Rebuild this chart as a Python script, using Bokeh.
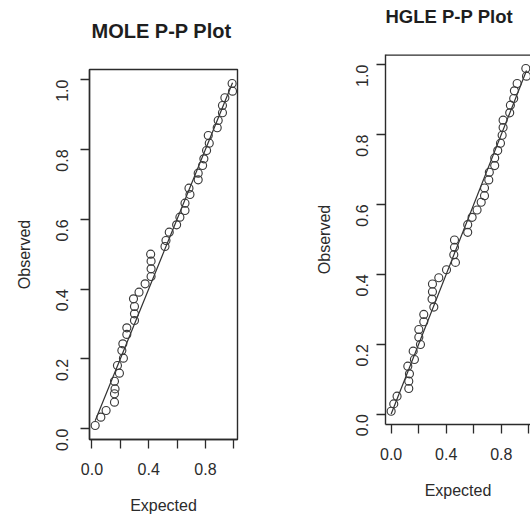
import math
from bokeh.plotting import figure
from bokeh.layouts import row
from bokeh.models import FixedTicker, Span, Range1d, Title
from bokeh.embed import file_html
from bokeh.resources import INLINE

# ---- data ----
mole_expected = [0.023, 0.063, 0.100, 0.159, 0.159, 0.163, 0.159, 0.194, 0.180, 0.222,
                 0.211, 0.218, 0.246, 0.246, 0.300, 0.300, 0.300, 0.293, 0.332, 0.375,
                 0.417, 0.417, 0.417, 0.414, 0.515, 0.522, 0.545, 0.597, 0.620, 0.656,
                 0.656, 0.691, 0.684, 0.749, 0.749, 0.780, 0.789, 0.808, 0.827, 0.820,
                 0.883, 0.890, 0.920, 0.920, 0.937, 0.991, 0.988]
mole_observed = [0.009, 0.033, 0.052, 0.076, 0.100, 0.114, 0.136, 0.159, 0.181, 0.202,
                 0.224, 0.243, 0.270, 0.289, 0.310, 0.329, 0.350, 0.372, 0.391, 0.415,
                 0.436, 0.458, 0.480, 0.500, 0.522, 0.539, 0.563, 0.584, 0.606, 0.625,
                 0.646, 0.671, 0.689, 0.713, 0.732, 0.754, 0.773, 0.797, 0.818, 0.840,
                 0.862, 0.883, 0.905, 0.926, 0.948, 0.967, 0.989]

hgle_expected = [0.000, 0.019, 0.043, 0.128, 0.128, 0.133, 0.121, 0.169, 0.160, 0.213,
                 0.201, 0.201, 0.237, 0.237, 0.310, 0.297, 0.300, 0.300, 0.346, 0.402,
                 0.467, 0.455, 0.460, 0.460, 0.556, 0.556, 0.588, 0.624, 0.654, 0.678,
                 0.678, 0.709, 0.713, 0.752, 0.752, 0.774, 0.794, 0.806, 0.813, 0.813,
                 0.861, 0.866, 0.890, 0.895, 0.915, 0.983, 0.978]
hgle_observed = [0.008, 0.029, 0.051, 0.073, 0.094, 0.115, 0.137, 0.156, 0.180, 0.199,
                 0.220, 0.242, 0.264, 0.285, 0.306, 0.329, 0.350, 0.372, 0.390, 0.413,
                 0.434, 0.456, 0.477, 0.498, 0.520, 0.542, 0.563, 0.584, 0.606, 0.625,
                 0.647, 0.670, 0.692, 0.711, 0.733, 0.754, 0.775, 0.798, 0.820, 0.841,
                 0.862, 0.884, 0.903, 0.925, 0.946, 0.967, 0.989]

tick_values = [0.0, 0.2, 0.4, 0.6, 0.8, 1.0]
x_tick_labels = ["0.0", "", "0.4", "", "0.8", ""]
y_tick_labels = ["0.0", "0.2", "0.4", "0.6", "0.8", "1.0"]

titles = ["MOLE P-P Plot", "HGLE P-P Plot"]
x_axis_title = "Expected"
y_axis_title = "Observed"

FONT = "Liberation Sans"
INK = "#2b2b2b"


def make_panel(title, expected, observed, width, height, borders, xr, yr,
               title_offset, title_size, ylab_standoff, draw_outline, top_margin):
    p = figure(width=width, height=height, output_backend="svg",
               toolbar_location=None, tools="", title=None,
               x_range=Range1d(*xr), y_range=Range1d(*yr),
               min_border_left=borders[0], min_border_right=borders[1],
               min_border_top=borders[2], min_border_bottom=borders[3],
               margin=(top_margin, 0, 0, 0))
    p.background_fill_color = "white"
    p.border_fill_color = "white"
    p.grid.visible = False
    if draw_outline:
        p.outline_line_color = INK
        p.outline_line_width = 1.4
    else:
        p.outline_line_color = None
        p.add_layout(Span(location=yr[1], dimension="width",
                          line_color=INK, line_width=2.6))

    # spacing panel between frame and title, then the title itself
    p.add_layout(Title(text=" ", text_font_size="1px", standoff=25), "above")
    p.add_layout(Title(text=title, text_font=FONT, text_font_style="bold",
                       text_font_size=title_size, text_color="#1e1e1e",
                       align="left", offset=title_offset, standoff=0), "above")

    for ax in (p.xaxis[0], p.yaxis[0]):
        ax.ticker = FixedTicker(ticks=tick_values)
        ax.axis_line_color = INK
        ax.axis_line_width = 1.4
        ax.major_tick_line_color = INK
        ax.major_tick_line_width = 1.3
        ax.major_tick_out = 9
        ax.major_tick_in = 0
        ax.minor_tick_line_color = None
        ax.major_label_text_font = FONT
        ax.major_label_text_font_size = "16px"
        ax.major_label_text_color = INK
        ax.axis_label_text_font = FONT
        ax.axis_label_text_font_size = "16px"
        ax.axis_label_text_font_style = "normal"
        ax.axis_label_text_color = INK

    p.xaxis[0].major_label_overrides = {t: l for t, l in zip(tick_values, x_tick_labels)}
    p.yaxis[0].major_label_overrides = {t: l for t, l in zip(tick_values, y_tick_labels)}
    p.xaxis[0].axis_label = x_axis_title
    p.yaxis[0].axis_label = y_axis_title
    p.xaxis[0].major_label_standoff = 14
    p.yaxis[0].major_label_standoff = ylab_standoff
    p.yaxis[0].major_label_orientation = math.pi / 2
    p.xaxis[0].axis_label_standoff = 19
    p.yaxis[0].axis_label_standoff = 15

    lo, hi = min(expected), max(expected)
    p.line([lo, hi], [lo, hi], line_color="#303030", line_width=1.2)
    p.scatter(expected, observed, marker="circle", size=8,
              fill_color=None, line_color="#3a3a3a", line_width=1.15)
    return p


left = make_panel(titles[0], mole_expected, mole_observed,
                  width=305, height=501, borders=(89, 68, 54, 77),
                  xr=(-0.017, 1.026), yr=(-0.031, 1.029),
                  title_offset=2, title_size="20px", ylab_standoff=18,
                  draw_outline=True, top_margin=15)
right = make_panel(titles[1], hgle_expected, hgle_observed,
                   width=225, height=501, borders=(80, 0, 54, 77),
                   xr=(-0.041, 1.012), yr=(-0.030, 1.029),
                   title_offset=0, title_size="18.5px", ylab_standoff=14,
                   draw_outline=False, top_margin=0)

layout = row(left, right)
open("out.html", "w").write(file_html(layout, INLINE))
